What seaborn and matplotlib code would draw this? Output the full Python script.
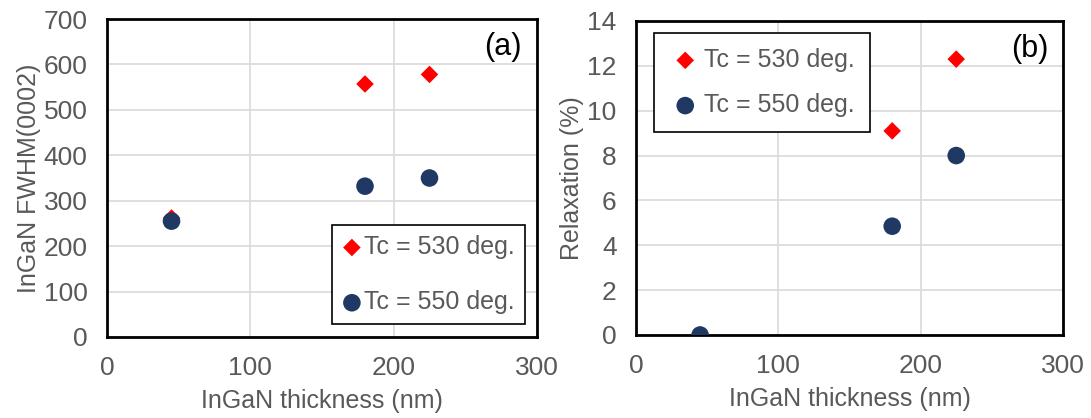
import matplotlib
matplotlib.use('Agg')
import matplotlib.pyplot as plt
import seaborn as sns
import pandas as pd

thickness = [45, 180, 225]
fwhm_530 = [262, 557, 578]
fwhm_550 = [255, 332, 350]
relax_530 = [0.0, 9.1, 12.3]
relax_550 = [0.0, 4.85, 8.0]
labels = ['Tc = 530 deg.', 'Tc = 550 deg.']

sns.set_style('whitegrid')
plt.rcParams['font.family'] = ['Liberation Sans', 'DejaVu Sans']
TXT = '#595959'
RED = '#ff0000'
NAVY = '#1f3864'

fig = plt.figure(figsize=(10.91, 4.18), dpi=100)
ax1 = fig.add_axes([0.0981, 0.1938, 0.4922 - 0.0981, 0.9545 - 0.1938])
ax2 = fig.add_axes([0.5830, 0.1986, 0.9743 - 0.5830, 0.9498 - 0.1986])


def panel(ax, y530, y550, ylim, ystep, ylabel, tag, leg_anchor, leg_kw):
    sns.scatterplot(x=thickness, y=y530, ax=ax, color=RED, marker='D', s=80,
                    edgecolor='none', label=labels[0], zorder=3)
    sns.scatterplot(x=thickness, y=y550, ax=ax, color=NAVY, marker='o', s=160,
                    edgecolor='none', label=labels[1], zorder=4)
    ax.set_xlim(0, 300)
    ax.set_ylim(0, ylim)
    ax.set_xticks(range(0, 301, 100))
    ax.set_yticks(range(0, ylim + 1, ystep))
    ax.grid(True, color='#d9d9d9', linewidth=1.2)
    for sp in ax.spines.values():
        sp.set_visible(True)
        sp.set_color('black')
        sp.set_linewidth(2)
    ax.tick_params(axis='both', labelsize=19, colors=TXT, length=0, pad=14)
    ax.set_xlabel('InGaN thickness (nm)', fontsize=18, color=TXT, labelpad=6)
    ax.set_ylabel(ylabel, fontsize=18, color=TXT, labelpad=2)
    ax.text(0.965, 0.96, tag, transform=ax.transAxes, ha='right', va='top',
            fontsize=22, color='black')
    leg = ax.legend(loc='upper left', bbox_to_anchor=leg_anchor, fontsize=18,
                    frameon=True, fancybox=False, framealpha=1,
                    borderaxespad=0, handletextpad=0.1, **leg_kw)
    leg.get_frame().set_edgecolor('black')
    leg.get_frame().set_linewidth(1.2)
    for t in leg.get_texts():
        t.set_color(TXT)


panel(ax1, fwhm_530, fwhm_550, 700, 100, 'InGaN FWHM(0002)', '(a)', (0.523, 0.352),
      dict(borderpad=0.4, labelspacing=1.25, handlelength=0.8))
panel(ax2, relax_530, relax_550, 14, 2, 'Relaxation (%)', '(b)', (0.042, 0.962),
      dict(borderpad=0.6, labelspacing=0.85, handlelength=1.3))

fig.savefig('out.png', dpi=100)
